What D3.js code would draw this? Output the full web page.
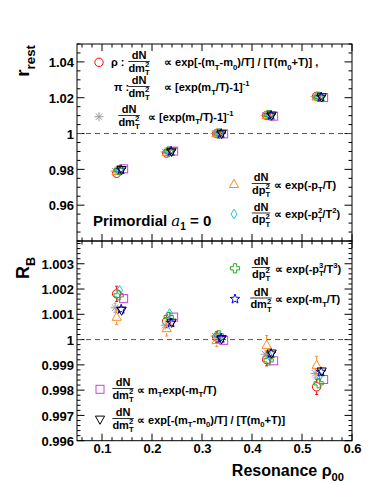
<!DOCTYPE html>
<html><head><meta charset="utf-8">
<script src="https://cdn.jsdelivr.net/npm/d3@7"></script>
<style>
body{margin:0;background:#fff}
svg{display:block}
text{font-family:"Liberation Sans",Arial,Helvetica,sans-serif;font-weight:bold;fill:#000}
</style>
</head><body>
<svg id="c" width="374" height="483"></svg>
<script>
// ---------------- data ----------------
const rho00 = [0.1333, 0.2333, 0.3333, 0.4333, 0.5333];
const xTickVals = [0.1, 0.2, 0.3, 0.4, 0.5, 0.6];
const xTickLabels = ["0.1", "0.2", "0.3", "0.4", "0.5", "0.6"];
const yTopTickVals = [0.96, 0.98, 1.00, 1.02, 1.04];
const yTopTickLabels = ["0.96", "0.98", "1", "1.02", "1.04"];
const yBotTickVals = [0.996, 0.997, 0.998, 0.999, 1.000, 1.001, 1.002, 1.003];
const yBotTickLabels = ["0.996", "0.997", "0.998", "0.999", "1", "1.001", "1.002", "1.003"];

// r_rest (top panel)
const rrest_rho  = [0.9778, 0.9891, 1.0000, 1.0101, 1.0208];
const rrest_bose = [0.9790, 0.9897, 1.0001, 1.0102, 1.0206];
const rrest_pt1  = [0.9789, 0.9895, 1.0000, 1.0102, 1.0205];
const rrest_pt2  = [0.9795, 0.9899, 1.0000, 1.0103, 1.0205];
const rrest_pt3  = [0.9796, 0.9900, 1.0000, 1.0103, 1.0205];
const rrest_mt   = [0.9798, 0.9901, 1.0000, 1.0102, 1.0204];
const rrest_mtmt = [0.9803, 0.9902, 0.9998, 1.0097, 1.0201];
const rrest_mt0  = [0.9798, 0.9900, 1.0000, 1.0102, 1.0204];

// R_B (bottom panel) and errors
const rb_rho  = [1.00181, 1.00072, 1.00010, 0.99921, 0.99813];
const rb_bose = [1.00126, 1.00057, 1.00014, 0.99942, 0.99866];
const rb_pt1  = [1.00089, 1.00044, 0.99997, 0.99978, 0.99899];
const rb_pt2  = [1.00195, 1.00103, 1.00009, 0.99934, 0.99855];
const rb_pt3  = [1.00175, 1.00089, 1.00017, 0.99918, 0.99827];
const rb_mt   = [1.00120, 1.00066, 1.00005, 0.99945, 0.99872];
const rb_mtmt = [1.00162, 1.00089, 0.99997, 0.99916, 0.99842];
const rb_mt0  = [1.00116, 1.00068, 1.00003, 0.99946, 0.99875];

const err_rho  = [0.00030, 0.00025, 0.00022, 0.00025, 0.00030];
const err_bose = [0.00018, 0.00016, 0.00015, 0.00017, 0.00018];
const err_pt1  = [0.00030, 0.00030, 0.00025, 0.00038, 0.00035];
const err_pt2  = [0.00015, 0.00013, 0.00012, 0.00014, 0.00015];
const err_pt3  = [0.00015, 0.00013, 0.00012, 0.00014, 0.00015];
const err_mt   = [0.00016, 0.00014, 0.00013, 0.00015, 0.00016];
const err_mtmt = [0.00012, 0.00011, 0.00010, 0.00011, 0.00012];
const err_mt0  = [0.00016, 0.00014, 0.00013, 0.00015, 0.00016];

const series = [
  {mk:'circle',  color:'#ff0000', dx:-0.004, top:rrest_rho,  bot:rb_rho,  err:err_rho},
  {mk:'aster',   color:'#9a9a9a', dx:-0.007, top:rrest_bose, bot:rb_bose, err:err_bose},
  {mk:'triUp',   color:'#ff8c1a', dx:-0.004, top:rrest_pt1,  bot:rb_pt1,  err:err_pt1},
  {mk:'diamond', color:'#1fc8c8', dx: 0.002, top:rrest_pt2,  bot:rb_pt2,  err:err_pt2},
  {mk:'cross',   color:'#22aa22', dx: 0.000, top:rrest_pt3,  bot:rb_pt3,  err:err_pt3},
  {mk:'square',  color:'#d040d0', dx: 0.010, top:rrest_mtmt, bot:rb_mtmt, err:err_mtmt},
  {mk:'star',    color:'#0000ff', dx: 0.005, top:rrest_mt,   bot:rb_mt,   err:err_mt},
  {mk:'triDown', color:'#000000', dx: 0.006, top:rrest_mt0,  bot:rb_mt0,  err:err_mt0}
];

// ---------------- layout ----------------
const L = 77, R = 352, T = 44, M = 241, B = 440.7;
const svg = d3.select('#c');
const x = d3.scaleLinear().domain([0.05, 0.6]).range([L, R]);
const yTop = d3.scaleLinear().domain([0.94, 1.05]).range([M, T]);
const yBot = d3.scaleLinear().domain([0.996, 1.0039]).range([B, M]);

function range(a, b, s){ const out=[]; for(let v=a; v<=b+s*1e-6; v+=s) out.push(+v.toFixed(6)); return out; }

// ---------------- axes ----------------
function drawAxes(y, yMajor, yLabels, yMinor, showX){
  const g = svg.append('g');
  const y0 = y.range()[0], y1 = y.range()[1];
  const xMinor = range(0.06, 0.6, 0.02);
  const xg = g.append('g');
  xMinor.forEach(v=>{
    const maj = xTickVals.some(t=>Math.abs(t-v)<1e-6);
    const len = maj ? 7 : 3.5;
    xg.append('line').attr('x1',x(v)).attr('x2',x(v)).attr('y1',y0).attr('y2',y0-len).attr('stroke','#000');
    xg.append('line').attr('x1',x(v)).attr('x2',x(v)).attr('y1',y1).attr('y2',y1+len).attr('stroke','#000');
  });
  yMinor.forEach(v=>{
    const maj = yMajor.some(t=>Math.abs(t-v)<1e-7);
    const len = maj ? 7.5 : 3.5;
    g.append('line').attr('x1',L).attr('x2',L+len).attr('y1',y(v)).attr('y2',y(v)).attr('stroke','#000');
    g.append('line').attr('x1',R).attr('x2',R-len).attr('y1',y(v)).attr('y2',y(v)).attr('stroke','#000');
  });
  const ax = d3.axisLeft(y).tickValues(yMajor).tickFormat((d,i)=>yLabels[i]).tickSize(0).tickPadding(3);
  const ag = g.append('g').attr('transform',`translate(${L},0)`).call(ax);
  ag.select('.domain').remove();
  ag.selectAll('text').attr('font-size',13).attr('font-family','"Liberation Sans",Arial,sans-serif').attr('font-weight','bold').attr('dy','0.36em');
  if(showX){
    const bx = d3.axisBottom(x).tickValues(xTickVals).tickFormat((d,i)=>xTickLabels[i]).tickSize(0).tickPadding(3);
    const bg = g.append('g').attr('transform',`translate(0,${y0})`).call(bx);
    bg.select('.domain').remove();
    bg.selectAll('text').attr('font-size',13).attr('font-family','"Liberation Sans",Arial,sans-serif').attr('font-weight','bold');
  }
  g.append('line').attr('x1',L).attr('x2',R).attr('y1',y(1)).attr('y2',y(1))
    .attr('stroke','#555').attr('stroke-dasharray','5,4').attr('stroke-width',1);
  g.append('rect').attr('x',L).attr('y',y1).attr('width',R-L).attr('height',y0-y1)
    .attr('fill','none').attr('stroke','#000').attr('stroke-width',1);
}
drawAxes(yTop, yTopTickVals, yTopTickLabels, range(0.94, 1.05, 0.005), false);
drawAxes(yBot, yBotTickVals, yBotTickLabels, range(0.996, 1.0039, 0.0002), true);

// ---------------- markers ----------------
function marker(g, type, cx, cy, color){
  const s = g.append('g').attr('transform',`translate(${cx},${cy})`);
  let el;
  switch(type){
    case 'circle': el = s.append('circle').attr('r',4.2); break;
    case 'square': el = s.append('rect').attr('x',-4).attr('y',-4).attr('width',8).attr('height',8); break;
    case 'triUp': el = s.append('path').attr('d','M0,-5L4.6,3.2L-4.6,3.2Z'); break;
    case 'triDown': el = s.append('path').attr('d','M0,5L4.6,-3.2L-4.6,-3.2Z'); break;
    case 'diamond': el = s.append('path').attr('d','M0,-4.8L3,0L0,4.8L-3,0Z'); break;
    case 'cross': el = s.append('path').attr('d','M-1.6,-4.6H1.6V-1.6H4.6V1.6H1.6V4.6H-1.6V1.6H-4.6V-1.6H-1.6Z'); break;
    case 'star': {
      let d=''; for(let i=0;i<10;i++){ const r=i%2?2.1:5; const a=-Math.PI/2+i*Math.PI/5; d+=(i?'L':'M')+(r*Math.cos(a)).toFixed(2)+','+(r*Math.sin(a)).toFixed(2);}
      el = s.append('path').attr('d',d+'Z'); break; }
    case 'aster': el = s.append('path').attr('d','M-4.5,0H4.5M0,-4.5V4.5M-3.2,-3.2L3.2,3.2M-3.2,3.2L3.2,-3.2'); break;
  }
  el.attr('fill','none').attr('stroke',color).attr('stroke-width',1);
}

// ---------------- data points ----------------
const gTop = svg.append('g');
const gBot = svg.append('g');
series.forEach(sr=>{
  rho00.forEach((r,i)=>{
    const cx = x(r + sr.dx);
    marker(gTop, sr.mk, cx, yTop(sr.top[i]), sr.color);
    const cy = yBot(sr.bot[i]);
    const yh = yBot(sr.bot[i] + sr.err[i]), yl = yBot(sr.bot[i] - sr.err[i]);
    if(cy - yh > 4.5){
      gBot.append('line').attr('x1',cx).attr('x2',cx).attr('y1',yh).attr('y2',cy-4.5).attr('stroke',sr.color);
      gBot.append('line').attr('x1',cx).attr('x2',cx).attr('y1',cy+4.5).attr('y2',yl).attr('stroke',sr.color);
      gBot.append('line').attr('x1',cx-1.5).attr('x2',cx+1.5).attr('y1',yh).attr('y2',yh).attr('stroke',sr.color);
      gBot.append('line').attr('x1',cx-1.5).attr('x2',cx+1.5).attr('y1',yl).attr('y2',yl).attr('stroke',sr.color);
    }
    marker(gBot, sr.mk, cx, cy, sr.color);
  });
});

// ---------------- rich text ----------------
function rich(sel, str, fs){
  const re = /(\^|_)\{([^}]*)\}|([^_^]+)/g;
  let m, shift = 0, last = null;
  while((m = re.exec(str))){
    let t, target, size, type;
    if(m[1]){ t=m[2]; size=fs*0.7; type=m[1]; target = type==='_' ? fs*0.32 : -fs*0.42; }
    else { t=m[3]; size=fs; target=0; type='n'; }
    const ts = sel.append('tspan').attr('dy', target-shift).attr('font-size', size).text(t);
    if(type!=='n' && last && last.type!=='n' && last.type!==type){
      ts.attr('dx', -last.node.getComputedTextLength());
    }
    last = {type, node: ts.node()};
    shift = target;
  }
  return sel;
}
function txt(x0, y0, str, fs, anchor){
  const t = svg.append('text').attr('x',x0).attr('y',y0).attr('font-size',fs).attr('text-anchor',anchor||'start');
  rich(t, str, fs);
  return t;
}
function frac(cx, ym, num, den, fs){
  const a = txt(cx, ym-2.2, num, fs, 'middle');
  const b = txt(cx, ym+fs*0.92, den, fs, 'middle');
  const w = Math.max(a.node().getBBox().width, b.node().getBBox().width);
  svg.append('line').attr('x1',cx-w/2).attr('x2',cx+w/2).attr('y1',ym).attr('y2',ym).attr('stroke','#000').attr('stroke-width',0.8);
}

// ---------------- legends ----------------
const FS = 11;
const dmT = 'dm_{T}^{2}', dpT = 'dp_{T}^{2}';
marker(svg, 'circle', 99, 62.3, '#ff0000');
txt(111, 66, 'ρ :', FS);
frac(139, 61.5, 'dN', dmT, FS);
txt(164, 66, '∝ exp[-(m_{T}-m_{0})/T] / [T(m_{0}+T)] ,', FS);
txt(114, 91, 'π :', FS);
frac(139, 86.5, 'dN', dmT, FS);
txt(164, 91, '∝ [exp(m_{T}/T)-1]^{-1}', FS);
marker(svg, 'aster', 99, 116.7, '#9a9a9a');
frac(129, 115.5, 'dN', dmT, FS);
txt(148, 120.5, '∝ [exp(m_{T}/T)-1]^{-1}', FS);
marker(svg, 'triUp', 234, 184.3, '#ff8c1a');
frac(261, 183.5, 'dN', dpT, FS);
txt(274, 188.5, '∝ exp(-p_{T}/T)', FS);
marker(svg, 'diamond', 234, 214, '#1fc8c8');
frac(261, 213, 'dN', dpT, FS);
txt(274, 218, '∝ exp(-p_{T}^{2}/T^{2})', FS);
marker(svg, 'cross', 235, 268.3, '#22aa22');
frac(261, 267.5, 'dN', dpT, FS);
txt(275, 272.5, '∝ exp(-p_{T}^{3}/T^{3})', FS);
marker(svg, 'star', 235, 299, '#0000ff');
frac(261, 298, 'dN', dmT, FS);
txt(275, 303, '∝ exp(-m_{T}/T)', FS);
marker(svg, 'square', 100, 389.3, '#d040d0');
frac(123, 388.5, 'dN', dmT, FS);
txt(137, 393.5, '∝ m_{T}exp(-m_{T}/T)', FS);
marker(svg, 'triDown', 100, 419.3, '#000');
frac(123, 418.5, 'dN', dmT, FS);
txt(137, 423.5, '∝ exp[-(m_{T}-m_{0})/T] / [T(m_{0}+T)]', FS);

// Primordial label
const pl = svg.append('text').attr('x',93).attr('y',226).attr('font-size',15);
pl.append('tspan').text('Primordial ');
pl.append('tspan').attr('font-family','"DejaVu Serif","Liberation Serif",serif').attr('font-style','italic').attr('font-weight','normal').text('a');
pl.append('tspan').attr('font-size',10).attr('dy',4).text('1');
pl.append('tspan').attr('dy',-4).text(' = 0');

// axis titles
const t1 = svg.append('text').attr('transform','translate(29,45) rotate(-90)').attr('text-anchor','end').attr('font-size',19);
rich(t1, 'r_{rest}', 19);
const t2 = svg.append('text').attr('transform','translate(29,257) rotate(-90)').attr('text-anchor','end').attr('font-size',18);
rich(t2, 'R_{B}', 18);
const t3 = svg.append('text').attr('x',344).attr('y',476).attr('text-anchor','end').attr('font-size',16);
rich(t3, 'Resonance ρ_{00}', 16);
</script>
</body></html>
